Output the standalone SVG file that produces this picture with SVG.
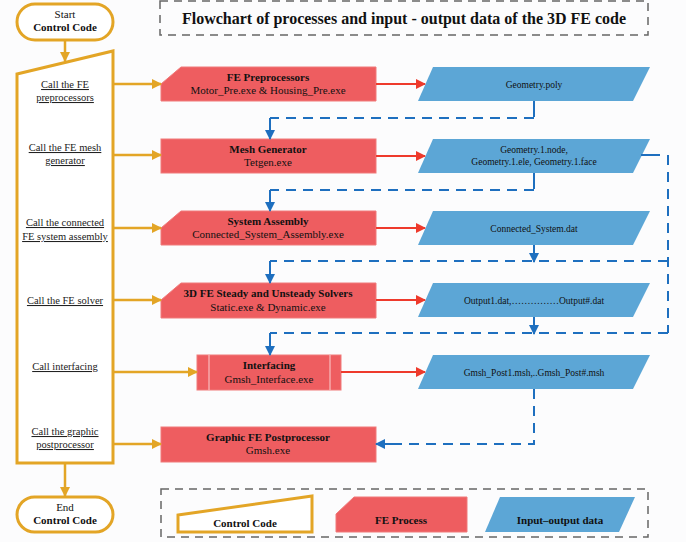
<svg xmlns="http://www.w3.org/2000/svg" width="686" height="542" viewBox="0 0 686 542">
<defs>
<marker id="ag" markerWidth="10" markerHeight="10" refX="9" refY="5" orient="auto" markerUnits="userSpaceOnUse"><path d="M0,0 L10,5 L0,10 Z" fill="#e3a526"/></marker>
<marker id="ar" markerWidth="10" markerHeight="10" refX="9" refY="5" orient="auto" markerUnits="userSpaceOnUse"><path d="M0,0 L10,5 L0,10 Z" fill="#ee3a2c"/></marker>
<marker id="ab" markerWidth="10" markerHeight="10" refX="9" refY="5" orient="auto" markerUnits="userSpaceOnUse"><path d="M0,0 L10,5 L0,10 Z" fill="#1e6fbf"/></marker>
</defs>
<style>
.ctl{fill:#fff;stroke:#e3a526;stroke-width:3}
.proc{fill:#ee5d60;stroke:#f07a7a;stroke-width:1}
.data{fill:#5ca6d6}
.gold{fill:none;stroke:#e3a526;stroke-width:2.5}
.red{fill:none;stroke:#ee3a2c;stroke-width:2}
.bl{fill:none;stroke:#1e6fbf;stroke-width:2}
.bd{fill:none;stroke:#1e6fbf;stroke-width:2;stroke-dasharray:10 7}
.gbox{fill:none;stroke:#666;stroke-width:1.5;stroke-dasharray:8 6}
text{font-family:"Liberation Serif","Times New Roman",serif;fill:#111;text-anchor:middle}
.t{font-size:11px}
.b{font-size:11px;font-weight:bold}
.u{font-size:10.5px;text-decoration:underline;fill:#222}
.d{font-size:9.5px}
.title{font-size:16px;font-weight:bold}
</style>
<rect width="686" height="542" fill="#fcfcfd"/>

<g id="title">
<rect class="gbox" x="160" y="1" width="488" height="34"/>
<text class="title" x="404" y="24">Flowchart of processes and input - output data of the 3D FE code</text>
</g>

<g id="start">
<rect class="ctl" x="17" y="4" width="96" height="36" rx="18"/>
<text class="t" x="65" y="18">Start</text>
<text class="b" x="65" y="31">Control Code</text>
</g>

<g id="control">
<path class="ctl" d="M17,74 L113,51 L113,463 L17,463 Z"/>
<text class="u" x="65" y="88">Call the FE</text>
<text class="u" x="65" y="101">preprocessors</text>
<text class="u" x="65" y="151">Call the FE mesh</text>
<text class="u" x="65" y="164">generator</text>
<text class="u" x="65" y="226">Call the connected</text>
<text class="u" x="65" y="240">FE system assembly</text>
<text class="u" x="65" y="304">Call the FE solver</text>
<text class="u" x="65" y="370">Call interfacing</text>
<text class="u" x="65" y="435">Call the graphic</text>
<text class="u" x="65" y="448">postprocessor</text>
</g>

<g id="end">
<rect class="ctl" x="17" y="497" width="96" height="35" rx="17.5"/>
<text class="t" x="65" y="511">End</text>
<text class="b" x="65" y="524">Control Code</text>
</g>

<g id="p1">
<path class="proc" d="M181,67 L376,67 L376,101 L161,101 L161,84 Z"/>
<text class="b" x="268" y="81">FE Preprocessors</text>
<text class="t" x="268" y="94">Motor_Pre.exe &amp; Housing_Pre.exe</text>
</g>
<g id="d1">
<path class="data" d="M433,67 L650,67 L633,101 L418,101 Z"/>
<text class="d" x="534" y="88">Geometry.poly</text>
</g>

<g id="p2">
<rect class="proc" x="161" y="139" width="215" height="34"/>
<text class="b" x="268" y="153">Mesh Generator</text>
<text class="t" x="268" y="166">Tetgen.exe</text>
</g>
<g id="d2">
<path class="data" d="M433,139 L650,139 L633,173 L418,173 Z"/>
<text class="d" x="534" y="153">Geometry.1.node,</text>
<text class="d" x="534" y="165">Geometry.1.ele, Geometry.1.face</text>
</g>

<g id="p3">
<path class="proc" d="M181,211 L376,211 L376,245 L161,245 L161,228 Z"/>
<text class="b" x="268" y="225">System Assembly</text>
<text class="t" x="268" y="238">Connected_System_Assembly.exe</text>
</g>
<g id="d3">
<path class="data" d="M433,211 L650,211 L633,245 L418,245 Z"/>
<text class="d" x="534" y="232">Connected_System.dat</text>
</g>

<g id="p4">
<path class="proc" d="M181,283 L376,283 L376,318 L161,318 L161,300 Z"/>
<text class="b" x="268" y="297">3D FE Steady and Unsteady Solvers</text>
<text class="t" x="268" y="311">Static.exe &amp; Dynamic.exe</text>
</g>
<g id="d4">
<path class="data" d="M433,283 L650,283 L633,317 L418,317 Z"/>
<text class="d" x="534" y="304">Output1.dat,……………Output#.dat</text>
</g>

<g id="p5">
<rect class="proc" x="197" y="355" width="144" height="35"/>
<line x1="209" y1="355" x2="209" y2="390" stroke="#fbd0d0" stroke-width="1"/>
<line x1="330" y1="355" x2="330" y2="390" stroke="#fbd0d0" stroke-width="1"/>
<text class="b" x="269" y="369">Interfacing</text>
<text class="t" x="269" y="383">Gmsh_Interface.exe</text>
</g>
<g id="d5">
<path class="data" d="M433,355 L650,355 L633,389 L418,389 Z"/>
<text class="d" x="534" y="376">Gmsh_Post1.msh,..Gmsh_Post#.msh</text>
</g>

<g id="p6">
<rect class="proc" x="161" y="427" width="215" height="35"/>
<text class="b" x="268" y="441">Graphic FE Postprocessor</text>
<text class="t" x="268" y="454">Gmsh.exe</text>
</g>

<g id="legend">
<rect class="gbox" x="161" y="489" width="487" height="48"/>
<path class="ctl" d="M178,515 L312,496 L312,532 L178,532 Z"/>
<text class="b" x="245" y="527">Control Code</text>
<path class="proc" d="M354,497 L467,497 L467,532 L336,532 L336,514 Z"/>
<text class="b" x="401" y="524">FE Process</text>
<path class="data" d="M500,497 L635,497 L619,532 L485,532 Z"/>
<text class="b" x="560" y="524">Input–output data</text>
</g>

<g id="connectors">
<line class="gold" x1="65" y1="40" x2="65" y2="61" marker-end="url(#ag)"/>
<line class="gold" x1="65" y1="463" x2="65" y2="496" marker-end="url(#ag)"/>
<line class="gold" x1="113" y1="84" x2="161" y2="84" marker-end="url(#ag)"/>
<line class="gold" x1="113" y1="155" x2="161" y2="155" marker-end="url(#ag)"/>
<line class="gold" x1="113" y1="228" x2="161" y2="228" marker-end="url(#ag)"/>
<line class="gold" x1="113" y1="300" x2="161" y2="300" marker-end="url(#ag)"/>
<line class="gold" x1="113" y1="372" x2="197" y2="372" marker-end="url(#ag)"/>
<line class="gold" x1="113" y1="444" x2="161" y2="444" marker-end="url(#ag)"/>

<line class="red" x1="376" y1="84" x2="425" y2="84" marker-end="url(#ar)"/>
<line class="red" x1="376" y1="156" x2="425" y2="156" marker-end="url(#ar)"/>
<line class="red" x1="376" y1="228" x2="425" y2="228" marker-end="url(#ar)"/>
<line class="red" x1="376" y1="300" x2="425" y2="300" marker-end="url(#ar)"/>
<line class="red" x1="341" y1="372" x2="425" y2="372" marker-end="url(#ar)"/>

<line class="bl" x1="534" y1="101" x2="534" y2="117"/>
<path class="bd" d="M534,118 L270,118"/>
<line class="bl" x1="270" y1="118" x2="270" y2="139" marker-end="url(#ab)"/>

<line class="bl" x1="534" y1="173" x2="534" y2="189"/>
<path class="bd" d="M534,190 L270,190"/>
<line class="bl" x1="270" y1="190" x2="270" y2="211" marker-end="url(#ab)"/>

<line class="bl" x1="641" y1="155" x2="660" y2="155"/>
<path class="bd" d="M668,155 L668,333"/>

<line class="bl" x1="534" y1="245" x2="534" y2="262" marker-end="url(#ab)"/>
<path class="bd" d="M668,261 L270,261"/>
<line class="bl" x1="270" y1="261" x2="270" y2="283" marker-end="url(#ab)"/>

<line class="bl" x1="534" y1="317" x2="534" y2="334" marker-end="url(#ab)"/>
<path class="bd" d="M668,333 L270,333"/>
<line class="bl" x1="270" y1="333" x2="270" y2="355" marker-end="url(#ab)"/>

<path class="bd" d="M534,389 L534,444 L390,444"/>
<line class="bl" x1="392" y1="444" x2="376" y2="444" marker-end="url(#ab)"/>
</g>
</svg>
